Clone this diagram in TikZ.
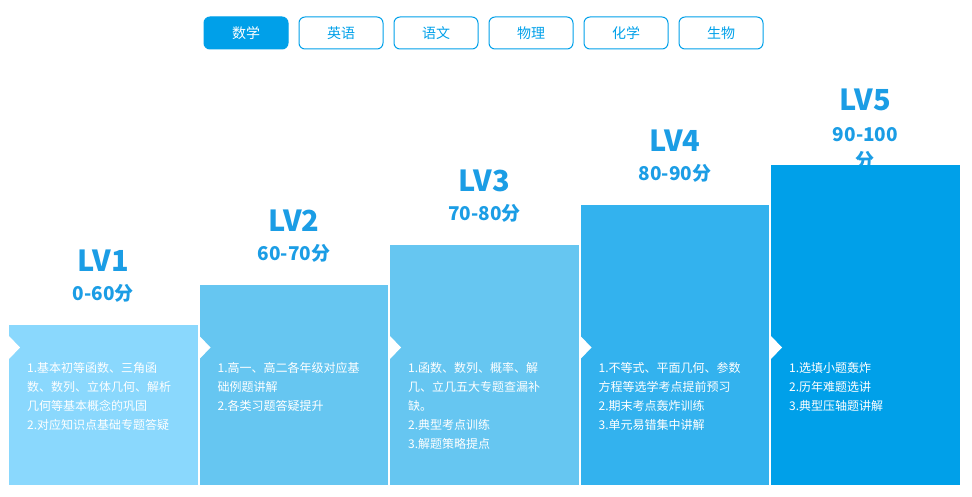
\documentclass[tikz,border=0pt]{standalone}
\usepackage{fontspec}
\setmainfont{Noto Sans CJK SC}
\usepackage{tikz}
\usetikzlibrary{positioning,backgrounds}

\definecolor{tabblue}{HTML}{00A0E9}
\definecolor{lvblue}{HTML}{1B9DE5}
\definecolor{barA}{HTML}{8AD8FD}
\definecolor{barB}{HTML}{66C6F1}
\definecolor{barC}{HTML}{66C6F1}
\definecolor{barD}{HTML}{33B2EE}
\definecolor{barE}{HTML}{00A0E9}

\begin{document}
\begin{tikzpicture}[
  x=1pt, y=1pt,
  tab/.style={draw=tabblue, line width=1pt, rounded corners=6pt, text=tabblue,
              minimum width=84pt, minimum height=32pt, inner sep=0pt,
              font=\fontsize{14}{16}\selectfont},
  activetab/.style={tab, fill=tabblue, text=white},
  bar/.style={anchor=south west, inner sep=0pt, minimum width=188.5pt},
  level/.style={text=lvblue, inner sep=0pt, font=\fontsize{29}{32}\selectfont\bfseries},
  score/.style={text=lvblue, inner sep=0pt, align=center,
                font=\fontsize{19}{26}\selectfont\bfseries},
  body/.style={text=white, anchor=north west, inner sep=0pt, align=left,
               font=\fontsize{12}{19}\selectfont}
]
\useasboundingbox (0,0) rectangle (972,496);
% subject tabs
\node[activetab] (math) at (246,463) {数学};
\node[tab, right=10pt of math] (english) {英语};
\node[tab, right=10pt of english] (chinese) {语文};
\node[tab, right=10pt of chinese] (physics) {物理};
\node[tab, right=10pt of physics] (chemistry) {化学};
\node[tab, right=10pt of chemistry] (biology) {生物};
% level bars
\node[bar, fill=barA, minimum height=160pt] (b1) at (9,11) {};
\node[bar, fill=barB, minimum height=200pt] (b2) at (199.5,11) {};
\node[bar, fill=barC, minimum height=240pt] (b3) at (390,11) {};
\node[bar, fill=barD, minimum height=280pt] (b4) at (580.5,11) {};
\node[bar, fill=barE, minimum height=320pt] (b5) at (771,11) {};
% notches
\fill[white] (b1.south west) ++(0,149) -- ++(11,-11.5) -- ++(-11,-11.5) -- cycle;
\fill[white] (b2.south west) ++(0,149) -- ++(11,-11.5) -- ++(-11,-11.5) -- cycle;
\fill[white] (b3.south west) ++(0,149) -- ++(11,-11.5) -- ++(-11,-11.5) -- cycle;
\fill[white] (b4.south west) ++(0,149) -- ++(11,-11.5) -- ++(-11,-11.5) -- cycle;
\fill[white] (b5.south west) ++(0,149) -- ++(11,-11.5) -- ++(-11,-11.5) -- cycle;
% level titles
\begin{scope}[on background layer]
\node[level] (lv1) at ([yshift=64pt]b1.north) {LV1};
\node[score] (s1) at ([yshift=31pt]b1.north) {0-60分};
\node[level] (lv2) at ([yshift=64pt]b2.north) {LV2};
\node[score] (s2) at ([yshift=31pt]b2.north) {60-70分};
\node[level] (lv3) at ([yshift=64pt]b3.north) {LV3};
\node[score] (s3) at ([yshift=31pt]b3.north) {70-80分};
\node[level] (lv4) at ([yshift=64pt]b4.north) {LV4};
\node[score] (s4) at ([yshift=31pt]b4.north) {80-90分};
\node[level] (lv5) at ([yshift=65pt]b5.north) {LV5};
\node[score] (s5) at ([yshift=16pt]b5.north) {90-100\\分};
\end{scope}
% contents
\node[body] (t1) at ([shift={(18,123)}]b1.south west)
  {1.基本初等函数、三角函\\数、数列、立体几何、解析\\几何等基本概念的巩固\\2.对应知识点基础专题答疑};
\node[body] (t2) at ([shift={(18,123)}]b2.south west)
  {1.高一、高二各年级对应基\\础例题讲解\\2.各类习题答疑提升};
\node[body] (t3) at ([shift={(18,123)}]b3.south west)
  {1.函数、数列、概率、解\\几、立几五大专题查漏补\\缺。\\2.典型考点训练\\3.解题策略提点};
\node[body] (t4) at ([shift={(18,123)}]b4.south west)
  {1.不等式、平面几何、参数\\方程等选学考点提前预习\\2.期末考点轰炸训练\\3.单元易错集中讲解};
\node[body] (t5) at ([shift={(18,123)}]b5.south west)
  {1.选填小题轰炸\\2.历年难题选讲\\3.典型压轴题讲解};
\end{tikzpicture}
\end{document}
